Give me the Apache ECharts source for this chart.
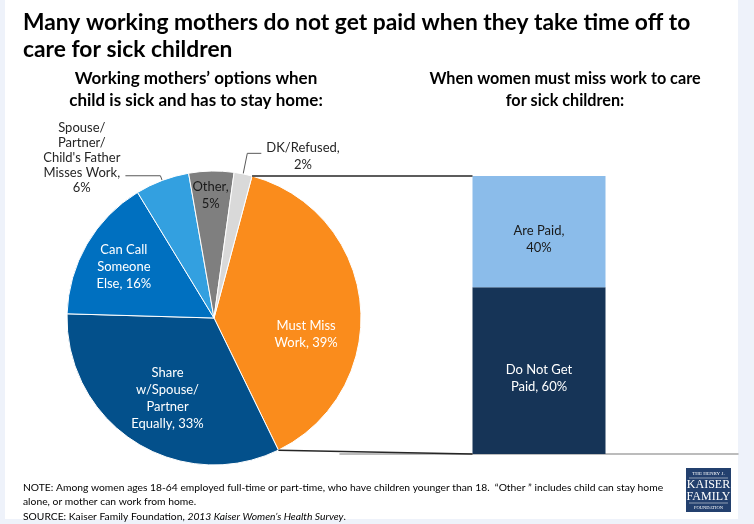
<!DOCTYPE html>
<html>
<head>
<meta charset="utf-8">
<script src="https://cdn.jsdelivr.net/npm/echarts@6/dist/echarts.min.js"></script>
<style>
html,body{margin:0;padding:0;background:#EEF2FA;}
#chart{width:754px;height:524px;}
</style>
</head>
<body>
<div id="chart"></div>
<script>
// ---- data ----
const pieNames = ['Must Miss Work', 'Share w/Spouse/Partner Equally', 'Can Call Someone Else', "Spouse/Partner/Child's Father Misses Work", 'Other', 'DK/Refused'];
const pieValues = [39, 33, 16, 6, 5, 2];
const pieLabels = [
  ['Must Miss', 'Work, 39%'],
  ['Share', 'w/Spouse/', 'Partner', 'Equally, 33%'],
  ['Can Call', 'Someone', 'Else, 16%'],
  ['Spouse/', 'Partner/', "Child's Father", 'Misses Work,', '6%'],
  ['Other,', '5%'],
  ['DK/Refused,', '2%']
];
const barCategories = ['When women must miss work'];
const barNames = ['Do Not Get Paid', 'Are Paid'];
const barValues = [60, 40];
const barLabels = [['Do Not Get', 'Paid, 60%'], ['Are Paid,', '40%']];

// ---- styles ----
const FONT = 'Lato';
const pieColors = ['#FA8C1C', '#03508B', '#0070C0', '#33A0E0', '#7F7F7F', '#D9D9D9'];
const pieLabelColors = ['#fff', '#fff', '#fff', '#262626', '#1a1a1a', '#262626'];
const outsideIdx = {
  3: { length: 5, length2: 35, padding: [0, 0, 36, 0], lh: 15 },
  5: { length: 21, length2: 14, padding: [6, 0, 0, 0], lh: 17 }
};
const insideShift = { 0: { dx: 16, dy: 24 }, 1: { dx: -5, dy: 16 }, 2: { dx: -24, dy: -13 }, 4: { dx: -2, dy: -46 } };
const barColors = ['#163457', '#8BBCEA'];
const barLabelColors = ['#fff', '#1a1a1a'];
const BAR_W = 133;
const PIE_CENTER = [214, 318], PIE_R = 147, PIE_START = 75;

const pieData = pieValues.map((v, i) => {
  const item = { value: v, name: pieNames[i], itemStyle: { color: pieColors[i] } };
  const o = outsideIdx[i];
  if (o) {
    item.label = { position: 'outside', padding: o.padding, color: pieLabelColors[i],
      rich: { c: { align: 'center', fontFamily: FONT, fontSize: 13, lineHeight: o.lh } } };
    item.labelLine = { show: true, length: o.length, length2: o.length2, smooth: false,
      lineStyle: { color: '#595959', width: 1 } };
  } else {
    item.label = { color: pieLabelColors[i] };
  }
  return item;
});

const chart = echarts.init(document.getElementById('chart'), null, { renderer: 'canvas' });

const option = {
  backgroundColor: '#EEF2FA',
  animation: false,
  textStyle: { fontFamily: FONT },
  title: [
    { text: 'Many working mothers do not get paid when they take time off to\ncare for sick children',
      left: 18, top: 4,
      textStyle: { fontFamily: FONT, fontSize: 22.8, fontWeight: 'bold', color: '#000', lineHeight: 27 } },
    { text: 'Working mothers\u2019 options when\nchild is sick and has to stay home:',
      left: 191, top: 63, textAlign: 'center',
      textStyle: { fontFamily: FONT, fontSize: 17, fontWeight: 'bold', color: '#000', lineHeight: 22 } },
    { text: 'When women must miss work to care\nfor sick children:',
      left: 560, top: 63, textAlign: 'center',
      textStyle: { fontFamily: FONT, fontSize: 16.2, fontWeight: 'bold', color: '#000', lineHeight: 22 } },
    { text: 'NOTE: Among women ages 18-64 employed full-time or part-time, who have children younger than 18.  \u201cOther \u201d includes child can stay home\nalone, or mother can work from home.\nSOURCE: Kaiser Family Foundation, {i|2013 Kaiser Women\u2019s Health Survey}.',
      left: 18, top: 475,
      textStyle: { fontFamily: FONT, fontSize: 10.3, fontWeight: 'normal', color: '#000', lineHeight: 14.5,
        rich: { i: { fontFamily: FONT, fontSize: 10.3, fontWeight: 'normal', fontStyle: 'italic', color: '#000', lineHeight: 14.5 } } } }
  ],
  grid: { left: 340, right: 16, top: 176, bottom: 70 },
  xAxis: { type: 'category', data: barCategories,
    axisLine: { show: true, lineStyle: { color: '#A6A6A6', width: 1.5 } },
    axisTick: { show: false }, axisLabel: { show: false } },
  yAxis: { type: 'value', min: 0, max: 100, show: false, splitLine: { show: false } },
  series: [
    {
      type: 'pie',
      center: PIE_CENTER,
      radius: PIE_R,
      startAngle: PIE_START,
      clockwise: true,
      avoidLabelOverlap: false,
      data: pieData,
      itemStyle: { borderColor: '#fff', borderWidth: 1 },
      label: {
        show: true, position: 'inside', fontFamily: FONT, fontSize: 13, lineHeight: 17,
        formatter: p => pieLabels[p.dataIndex].map(s => '{c|' + s + '}').join('\n'),
        rich: { c: { align: 'center', fontFamily: FONT, fontSize: 13, lineHeight: 17 } }
      },
      labelLine: { show: false },
      labelLayout: p => insideShift[p.dataIndex] || {}
    },
    ...barValues.map((v, i) => ({
      type: 'bar', name: barNames[i], stack: 'paid', barWidth: BAR_W,
      data: [v],
      itemStyle: { color: barColors[i] },
      label: { show: true, position: 'inside', offset: [0, 8], color: barLabelColors[i], fontFamily: FONT, fontSize: 13, lineHeight: 17,
        formatter: () => barLabels[i].join('\n') }
    }))
  ],
  graphic: [
    { type: 'rect', z: -100, silent: true, shape: { x: 5, y: 0, width: 733, height: 519 }, style: { fill: '#fff' } },
    // logo
    { type: 'group', left: 686, top: 468, children: [
      { type: 'rect', shape: { x: 0, y: 0, width: 45, height: 44 }, style: { fill: '#23406E' } },
      { type: 'text', x: 22.5, y: 3, style: { text: 'THE HENRY J.', fill: '#fff', font: '5px "Liberation Serif"', textAlign: 'center' } },
      { type: 'line', shape: { x1: 3, y1: 10, x2: 42, y2: 10 }, style: { stroke: '#fff', lineWidth: 0.5 } },
      { type: 'text', x: 22.5, y: 11, style: { text: 'KAISER', fill: '#fff', font: '12px "Liberation Serif"', textAlign: 'center' } },
      { type: 'text', x: 22.5, y: 23, style: { text: 'FAMILY', fill: '#fff', font: '12px "Liberation Serif"', textAlign: 'center' } },
      { type: 'line', shape: { x1: 3, y1: 35, x2: 42, y2: 35 }, style: { stroke: '#fff', lineWidth: 0.5 } },
      { type: 'text', x: 22.5, y: 37, style: { text: 'FOUNDATION', fill: '#fff', font: '4.5px "Liberation Serif"', textAlign: 'center' } }
    ] }
  ]
};
chart.setOption(option);

// connector lines from the "Must Miss Work" slice to the stacked bar (added directly, no re-layout)
const pieSum = pieValues.reduce((a, b) => a + b, 0);
const a0 = -PIE_START * Math.PI / 180;
const a1 = a0 + 2 * Math.PI * pieValues[0] / pieSum;
const ptAt = a => [PIE_CENTER[0] + PIE_R * Math.cos(a), PIE_CENTER[1] + PIE_R * Math.sin(a)];
const s = ptAt(a0), e = ptAt(a1);
const total = barValues.reduce((a, b) => a + b, 0);
const topC = chart.convertToPixel({ xAxisIndex: 0, yAxisIndex: 0 }, [0, total]);
const botC = chart.convertToPixel({ xAxisIndex: 0, yAxisIndex: 0 }, [0, 0]);
const barLeft = topC[0] - BAR_W / 2;
const zr = chart.getZr();
[[s, [barLeft, topC[1]]], [e, [barLeft, botC[1]]]].forEach(([p, q]) => {
  zr.add(new echarts.graphic.Line({
    z: 100, silent: true,
    shape: { x1: p[0], y1: p[1], x2: q[0], y2: q[1] },
    style: { stroke: '#262626', lineWidth: 1.5 }
  }));
});
</script>
</body>
</html>
